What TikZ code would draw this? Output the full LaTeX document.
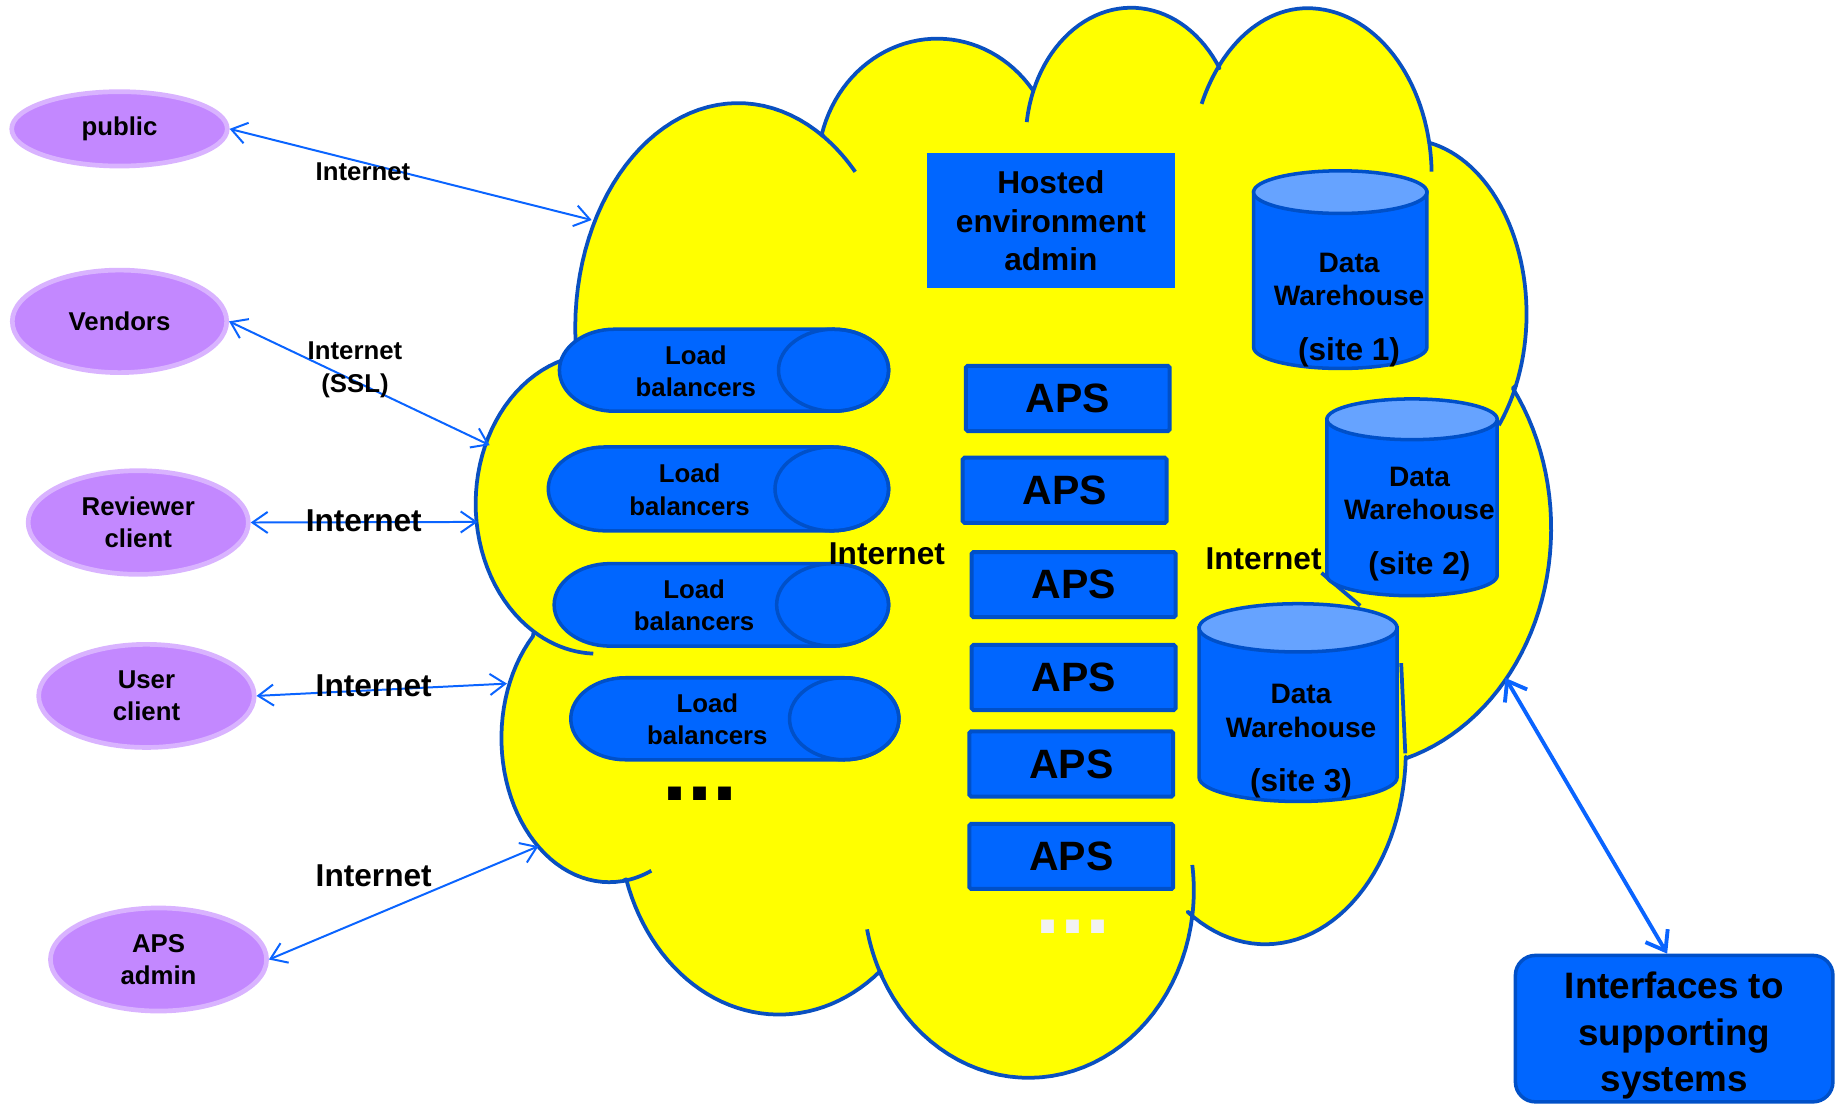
\documentclass[tikz,border=0pt]{standalone}
\usepackage{fontspec}
\setmainfont{Liberation Sans}
\usetikzlibrary{arrows.meta,shapes.geometric}

\definecolor{cloudline}{HTML}{0A50C0}
\definecolor{cloudfill}{HTML}{FFFF00}
\definecolor{boxblue}{HTML}{0066FF}
\definecolor{boxline}{HTML}{0050C8}
\definecolor{dwtopc}{HTML}{66A3FF}
\definecolor{purplefill}{HTML}{C388FF}
\definecolor{purpleline}{HTML}{D9B3FF}
\definecolor{arrowblue}{HTML}{0A64FF}
\definecolor{dotwhite}{HTML}{F2F2F2}

\newcommand\fsz[2]{\fontsize{#1}{#2}\selectfont\bfseries}

% load balancer: left, right, cy, rx, ry
\newcommand\lbshape[5]{%
  \filldraw[lbstyle] ({#1+#4},{#3-#5}) arc[start angle=90,end angle=270,x radius=#4pt,y radius=#5pt]
    -- ({#2-#4},{#3+#5}) arc[start angle=-90,end angle=90,x radius=#4pt,y radius=#5pt] -- cycle;
  \draw[lbstyle,fill=none] ({#2-#4},#3) ellipse[x radius=#4pt,y radius=#5pt];
}
% data warehouse cylinder: cx, rx, cytop, ry, cybottom
\newcommand\dwcyl[5]{%
  \filldraw[dwbody] ({#1-#2},#3) -- ({#1-#2},#5)
    arc[start angle=180,end angle=360,x radius=#2pt,y radius=#4pt] -- ({#1+#2},#3) -- cycle;
  \filldraw[dwtop] (#1,#3) ellipse[x radius=#2pt,y radius=#4pt];
}
% inner arc of the cloud: cx, cy, rx, ry, t0, t1
\newcommand\innerarc[6]{%
  \draw[cloudinner] plot[domain=0:1,samples=12,variable=\s]
    ({#1+#3*cos(#5+(#6-#5)*\s)},{#2-#4*sin(#5+(#6-#5)*\s)});
}

\begin{document}
\begin{tikzpicture}[x=1pt,y=-1pt,
  cloudedge/.style={draw=cloudline,line width=3.2pt,line join=round},
  cloudinner/.style={draw=cloudline,line width=3.2pt},
  lbstyle/.style={fill=boxblue,draw=boxline,line width=3pt},
  dwbody/.style={fill=boxblue,draw=boxline,line width=3pt},
  dwtop/.style={fill=dwtopc,draw=boxline,line width=3pt},
  apsbox/.style={rectangle,fill=boxblue,draw=boxline,line width=3.4pt,rounded corners=1.5pt,
    minimum width=174pt,minimum height=55.6pt,inner sep=0pt,font=\fsz{35}{40}},
  hostbox/.style={rectangle,fill=boxblue,minimum width=212pt,minimum height=115pt,inner sep=0pt,
    align=center,font=\fsz{27}{32.7}},
  intfbox/.style={rectangle,fill=boxblue,draw=boxline,line width=3pt,rounded corners=17pt,
    minimum width=271pt,minimum height=125pt,inner sep=0pt},
  ell/.style={ellipse,fill=purplefill,draw=purpleline,line width=4pt,inner sep=0pt,
    align=center,font=\fsz{22}{27}},
  lbtext/.style={inner sep=0pt,align=center,font=\fsz{22}{27.5}},
  dwtext/.style={inner sep=0pt,align=center,font=\fsz{24}{28.4}},
  sitetext/.style={inner sep=0pt,font=\fsz{27}{32}},
  lblsmall/.style={inner sep=0pt,align=center,font=\fsz{22}{28}},
  lblbig/.style={inner sep=0pt,font=\fsz{27}{32}},
  dots/.style={inner sep=0pt,font=\fsz{77}{80}},
  thinarrow/.style={draw=arrowblue,line width=1.7pt,>={Straight Barb[length=13pt,width=18pt]},<->},
  bigarrow/.style={draw=arrowblue,line width=3.3pt,line cap=round,
    >={Straight Barb[length=15pt,width=22pt]},<->}
]
\useasboundingbox (0,0) rectangle (1568,944);

% ---------------- cloud (elliptical bumps) ----------------
\filldraw[fill=cloudfill,cloudedge]
  plot[domain=0:1,samples=40,variable=\s] ({630+139*cos(186+(58-186)*\s)},{280-192*sin(186+(58-186)*\s)})
  -- plot[domain=0:1,samples=40,variable=\s] ({800+102*cos(165+(37-165)*\s)},{143-110*sin(165+(37-165)*\s)})
  -- plot[domain=0:1,samples=40,variable=\s] ({965.5+90*cos(158+(33-158)*\s)},{120-113.4*sin(158+(33-158)*\s)})
  -- plot[domain=0:1,samples=20,variable=\s] ({1116+100*cos(140+(90-140)*\s)},{150-143*sin(140+(90-140)*\s)})
  -- plot[domain=0:1,samples=30,variable=\s] ({1116+106*cos(90+(11.3-90)*\s)},{150-143*sin(90+(11.3-90)*\s)})
  -- plot[domain=0:1,samples=40,variable=\s] ({1200+103*cos(78.5+(-24.2-78.5)*\s)},{268-149*sin(78.5+(-24.2-78.5)*\s)})
  -- plot[domain=0:1,samples=40,variable=\s] ({1150+174*cos(35.7+(-73.3-35.7)*\s)},{451-205*sin(35.7+(-73.3-35.7)*\s)})
  -- plot[domain=0:1,samples=40,variable=\s] ({1080+120*cos(-2+(-123.6+2)*\s)},{640-166*sin(-2+(-123.6+2)*\s)})
  -- plot[domain=0:1,samples=40,variable=\s] ({878+141*cos(-7.3+(-152.6+7.3)*\s)},{760-160*sin(-7.3+(-152.6+7.3)*\s)})
  -- plot[domain=0:1,samples=40,variable=\s] ({665+137*cos(-51+(-162.3+51)*\s)},{700-166*sin(-51+(-162.3+51)*\s)})
  -- plot[domain=0:1,samples=40,variable=\s] ({520+92*cos(277.1+(135-277.1)*\s)},{630-123*sin(277.1+(135-277.1)*\s)})
  -- plot[domain=0:1,samples=40,variable=\s] ({510+104*cos(238.4+(95-238.4)*\s)},{430-128*sin(238.4+(95-238.4)*\s)})
  -- cycle;

% inner arcs of the cloud
\innerarc{630}{280}{139}{192}{58}{44}
\innerarc{965.5}{120}{90}{113.4}{172}{158}
\innerarc{1116}{150}{100}{143}{154.6}{140}
\innerarc{1116}{150}{106}{143}{11.3}{1.4}
\innerarc{1200}{268}{103}{149}{-24.2}{-39.6}
\innerarc{878}{760}{141}{160}{7.8}{-7.3}
\innerarc{878}{760}{141}{160}{-152.6}{-168}
\innerarc{520}{630}{92}{123}{277.1}{293}
\innerarc{510}{430}{104}{128}{238.4}{268}
\draw[cloudinner] (1196,566) -- (1199.5,643);
\draw[cloudinner] (1128,489) -- (1161,517);

% ---------------- load balancers ----------------
\lbshape{477.5}{758.5}{316}{47}{35}
\lbshape{468}{758.5}{417.3}{48.5}{35.8}
\lbshape{473}{758.5}{516.3}{47.8}{35.2}
\lbshape{487.2}{767.3}{613.5}{46.7}{35}
\node[lbtext] (lb1) at (594,317) {Load\\balancers};
\node[lbtext] (lb2) at (588.6,418) {Load\\balancers};
\node[lbtext] (lb3) at (592.4,516.4) {Load\\balancers};
\node[lbtext] (lb4) at (603.8,613.7) {Load\\balancers};
\node[dots] (lbdots) at (597.7,677.5) {...};

% ---------------- hosted admin and APS ----------------
\node[hostbox] (host) at (897,188.5) {Hosted\\environment\\admin};
\node[apsbox] (aps1) at (911.4,340.1) {APS};
\node[apsbox] (aps2) at (908.75,418.5) {APS};
\node[apsbox] (aps3) at (916.4,499) {APS};
\node[apsbox] (aps4) at (916.4,578.3) {APS};
\node[apsbox] (aps5) at (914.4,652.1) {APS};
\node[apsbox] (aps6) at (914.4,731) {APS};
\node[dots,text=dotwhite] (apsdots) at (916.2,790.8) {...};

% ---------------- data warehouses ----------------
\dwcyl{1144}{74}{164}{18.2}{296.3}
\dwcyl{1205.25}{72.7}{357.9}{17.4}{491.1}
\dwcyl{1108}{84.5}{535.9}{20.6}{663.5}
\node[dwtext] (dw1) at (1151.5,238.8) {Data\\Warehouse};
\node[sitetext] (dw1s) at (1151.5,300.5) {(site 1)};
\node[dwtext] (dw2) at (1211.6,421) {Data\\Warehouse};
\node[sitetext] (dw2s) at (1211.6,483.5) {(site 2)};
\node[dwtext] (dw3) at (1110.5,606.8) {Data\\Warehouse};
\node[sitetext] (dw3s) at (1110.5,668.4) {(site 3)};

% ---------------- interfaces ----------------
\node[intfbox] (intf) at (1429,878) {};
\node[inner sep=0pt,align=center,font=\fsz{31.4}{39.5}] (intftext) at (1429,884) {Interfaces to\\supporting\\systems};

% ---------------- clients ----------------
\node[ell,minimum width=184pt,minimum height=63.5pt] (pub) at (102,110) {public};
\node[ell,minimum width=183pt,minimum height=87.5pt] (ven) at (102,274.3) {Vendors};
\node[ell,minimum width=188pt,minimum height=88.5pt] (rev) at (118,446) {Reviewer\\client};
\node[ell,minimum width=184pt,minimum height=88pt] (usr) at (125,594) {User\\client};
\node[ell,minimum width=184.5pt,minimum height=88pt] (adm) at (135.3,819) {APS\\admin};

% ---------------- connectors ----------------
\coordinate (cpub) at (505,187.8);
\coordinate (cven) at (418,380);
\coordinate (crev) at (407.7,445.5);
\coordinate (cusr) at (432.7,583.5);
\coordinate (cadm) at (459.6,722.3);
\coordinate (cint) at (1285,578.7);

\draw[thinarrow] (pub.east) -- (cpub);
\draw[thinarrow] (ven.east) -- (cven);
\draw[thinarrow] (rev.east) -- (crev);
\draw[thinarrow] (usr.east) -- (cusr);
\draw[thinarrow] (adm.east) -- (cadm);
\draw[bigarrow] (cint) -- ([xshift=-6pt]intf.north);

% ---------------- labels ----------------
\node[lblsmall] (inet1) at (309.8,146.5) {Internet};
\node[lblsmall] (inet2) at (303,315.5) {Internet\\(SSL)};
\node[lblbig] (inet3) at (310.5,444.4) {Internet};
\node[lblbig] (inet4) at (319,585) {Internet};
\node[lblbig] (inet5) at (319,747.7) {Internet};
\node[lblbig] (inet6) at (757,472.5) {Internet};
\node[lblbig] (inet7) at (1078.5,477) {Internet};
\end{tikzpicture}
\end{document}
